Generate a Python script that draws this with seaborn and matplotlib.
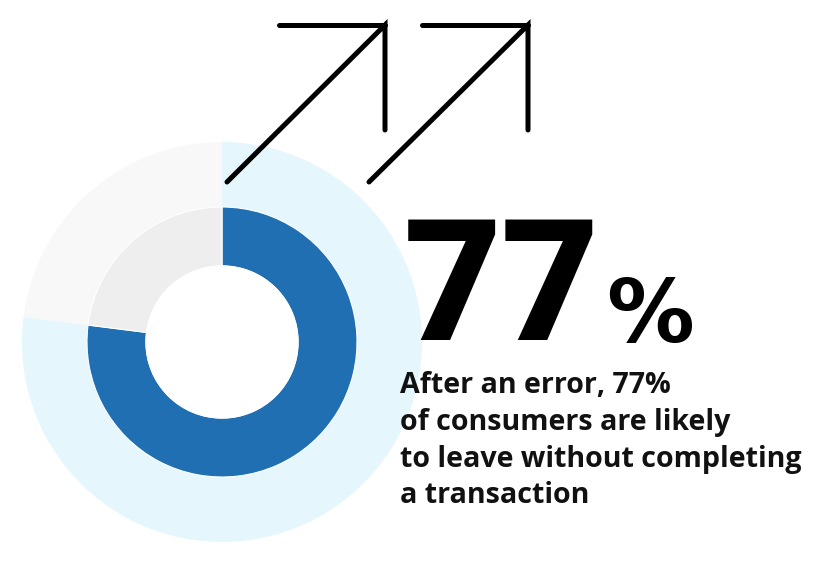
import matplotlib
matplotlib.use("Agg")
import matplotlib.pyplot as plt
import seaborn as sns
from matplotlib.patches import Circle

# ---- data ----
shares = [77, 23]                      # % likely to leave, remainder
labels = ["leave", "stay"]
big_number = "77"
big_unit = "%"
caption_lines = [
    "After an error, 77%",
    "of consumers are likely",
    "to leave without completing",
    "a transaction",
]

# ---- style ----
sns.set_theme(style="white")
plt.rcParams['font.family'] = ['Open Sans', 'DejaVu Sans']

inner_colors = ["#1f6fb2", "#eeeeee"]
outer_colors = ["#e5f6fc", "#f8f8f8"]

W, H = 832, 563
fig = plt.figure(figsize=(W / 100, H / 100), dpi=100)
ax = fig.add_axes([0, 0, 1, 1])

cx, cy = 222, H - 342

# background disc
ax.pie(shares, colors=outer_colors, radius=200, center=(cx, cy),
       startangle=90, counterclock=False,
       wedgeprops=dict(linewidth=0), frame=True)
# donut
ax.pie(shares, colors=inner_colors, radius=135, center=(cx, cy),
       startangle=90, counterclock=False,
       wedgeprops=dict(width=59, edgecolor="white", linewidth=0.8), frame=True)
ax.add_patch(Circle((cx, cy), 76, color="white", zorder=3))
ax.set_xlim(0, W)
ax.set_ylim(0, H)
ax.set_aspect("equal")
ax.axis("off")

# arrows (decorative)
arrow_paths = [
    [(227, 182), (385, 25), (385, 130)],
    [(369, 182), (528, 25), (528, 130)],
]
arrow_heads = [[(279, 25), (385, 25)], [(422, 25), (528, 25)]]
for path, head in zip(arrow_paths, arrow_heads):
    ax.plot([p[0] for p in path], [H - p[1] for p in path], color="black",
            lw=3.6, solid_capstyle="round", solid_joinstyle="miter")
    ax.plot([p[0] for p in head], [H - p[1] for p in head], color="black",
            lw=3.6, solid_capstyle="round")

ax.text(404, H - 340, big_number, fontsize=122, fontweight="black",
        family=["Roboto", "DejaVu Sans"], color="black",
        ha="left", va="baseline")
ax.text(606, H - 342, big_unit, fontsize=63, fontweight="bold",
        family=["DejaVu Sans"], color="black", ha="left", va="baseline")

baselines = [393, 430, 467, 503]
for line, b in zip(caption_lines, baselines):
    ax.text(400, H - b, line, fontsize=20.6, fontweight="bold", color="#111111",
            ha="left", va="baseline")

fig.savefig("out.png", dpi=100, facecolor="white")
